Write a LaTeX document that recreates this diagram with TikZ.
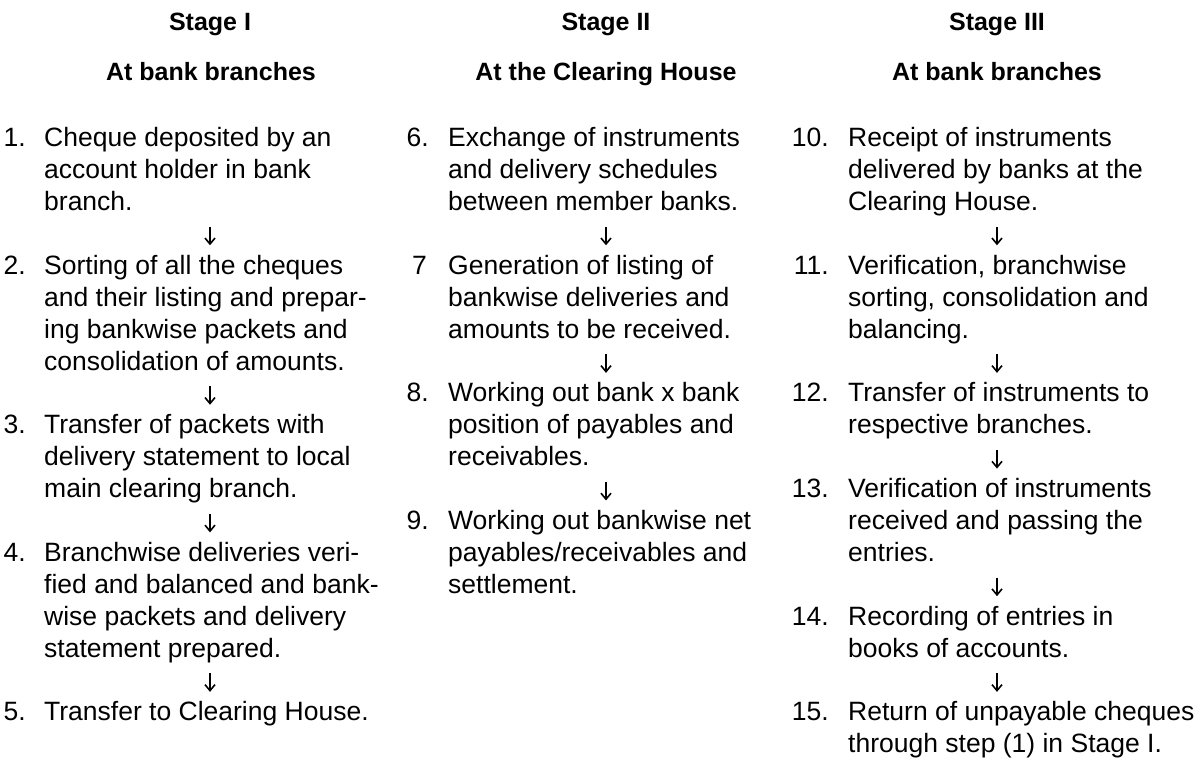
\documentclass[tikz,border=0pt]{standalone}
\usepackage{fontspec}
\setmainfont{Liberation Sans}
\usetikzlibrary{arrows.meta}
% first baseline and line pitch of the step texts
\def\firstbase{146.5}
\def\pitch{31.9}
\begin{document}
\begin{tikzpicture}[x=1pt,y=-1pt,
  stagehead/.style={font=\bfseries\fontsize{25}{30}\selectfont, anchor=base, inner sep=0pt},
  item/.style={font=\fontsize{26.5}{31.9}\selectfont, align=left, anchor=north west, inner sep=0pt},
  num/.style={font=\fontsize{26.5}{31.9}\selectfont, anchor=base east, inner sep=0pt},
  flow/.style={-{Straight Barb[length=6pt,width=10pt]}, line width=1.6pt,
               shorten <=6.5pt, shorten >=6.5pt}]
\fill[white] (0,0) rectangle (1204,760);
\useasboundingbox (0,0) rectangle (1204,760);

% column headings
\node[stagehead] (s1) at (210,31) {Stage I};
\node[stagehead] (p1) at (211,80) {At bank branches};
\node[stagehead] (s2) at (606,31) {Stage II};
\node[stagehead] (p2) at (606,80) {At the Clearing House};
\node[stagehead] (s3) at (997,31) {Stage III};
\node[stagehead] (p3) at (997,80) {At bank branches};

% step r of a column: top = firstbase - 0.7 pitch + r pitch
\newcommand{\rowtop}[1]{\firstbase-0.7*\pitch+\pitch*#1}
\newcommand{\rowbase}[1]{\firstbase+\pitch*#1}

% Stage I steps
\node[item] (i1) at (44,{\rowtop{0}}) {\strut Cheque deposited by an\\account holder in bank\\branch.\strut};
\node[item] (i2) at (44,{\rowtop{4}}) {\strut Sorting of all the cheques\\and their listing and prepar-\\ing bankwise packets and\\consolidation of amounts.\strut};
\node[item] (i3) at (44,{\rowtop{9}}) {\strut Transfer of packets with\\delivery statement to local\\main clearing branch.\strut};
\node[item] (i4) at (44,{\rowtop{13}}) {\strut Branchwise deliveries veri-\\fied and balanced and bank-\\wise packets and delivery\\statement prepared.\strut};
\node[item] (i5) at (44,{\rowtop{18}}) {\strut Transfer to Clearing House.\strut};
\node[num] (n1) at (26,{\rowbase{0}}) {1.};
\node[num] (n2) at (26,{\rowbase{4}}) {2.};
\node[num] (n3) at (26,{\rowbase{9}}) {3.};
\node[num] (n4) at (26,{\rowbase{13}}) {4.};
\node[num] (n5) at (26,{\rowbase{18}}) {5.};

% Stage II steps
\node[item] (i6) at (448,{\rowtop{0}}) {\strut Exchange of instruments\\and delivery schedules\\between member banks.\strut};
\node[item] (i7) at (448,{\rowtop{4}}) {\strut Generation of listing of\\bankwise deliveries and\\amounts to be received.\strut};
\node[item] (i8) at (448,{\rowtop{8}}) {\strut Working out bank x bank\\position of payables and\\receivables.\strut};
\node[item] (i9) at (448,{\rowtop{12}}) {\strut Working out bankwise net\\payables/receivables and\\settlement.\strut};
\node[num] (n6) at (429,{\rowbase{0}}) {6.};
\node[num] (n7) at (427,{\rowbase{4}}) {7};
\node[num] (n8) at (429,{\rowbase{8}}) {8.};
\node[num] (n9) at (429,{\rowbase{12}}) {9.};

% Stage III steps
\node[item] (i10) at (848,{\rowtop{0}}) {\strut Receipt of instruments\\delivered by banks at the\\Clearing House.\strut};
\node[item] (i11) at (848,{\rowtop{4}}) {\strut Verification, branchwise\\sorting, consolidation and\\balancing.\strut};
\node[item] (i12) at (848,{\rowtop{8}}) {\strut Transfer of instruments to\\respective branches.\strut};
\node[item] (i13) at (848,{\rowtop{11}}) {\strut Verification of instruments\\received and passing the\\entries.\strut};
\node[item] (i14) at (848,{\rowtop{15}}) {\strut Recording of entries in\\books of accounts.\strut};
\node[item] (i15) at (848,{\rowtop{18}}) {\strut Return of unpayable cheques\\through step (1) in Stage I.\strut};
\node[num] (n10) at (829,{\rowbase{0}}) {10.};
\node[num] (n11) at (829,{\rowbase{4}}) {11.};
\node[num] (n12) at (829,{\rowbase{8}}) {12.};
\node[num] (n13) at (829,{\rowbase{11}}) {13.};
\node[num] (n14) at (829,{\rowbase{15}}) {14.};
\node[num] (n15) at (829,{\rowbase{18}}) {15.};

% flow arrows, on the axis of each column
\foreach \a/\b in {i1/i2,i2/i3,i3/i4,i4/i5}
  \draw[flow] (\a.south -| s1) -- (\b.north -| s1);
\foreach \a/\b in {i6/i7,i7/i8,i8/i9}
  \draw[flow] (\a.south -| s2) -- (\b.north -| s2);
\foreach \a/\b in {i10/i11,i11/i12,i12/i13,i13/i14,i14/i15}
  \draw[flow] (\a.south -| s3) -- (\b.north -| s3);
\end{tikzpicture}
\end{document}
